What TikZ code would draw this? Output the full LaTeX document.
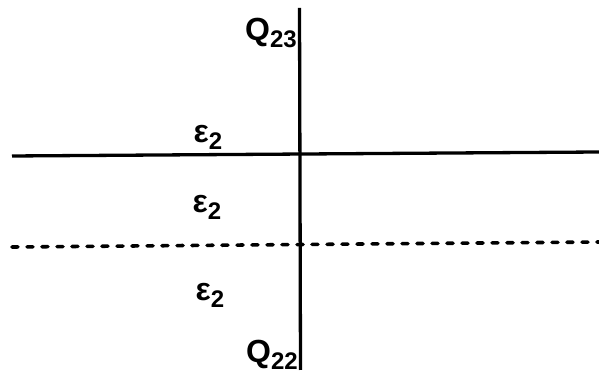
\documentclass[tikz,border=0pt]{standalone}
\usepackage{fontspec}
\setmainfont{Liberation Sans}
\newcommand{\subsc}[1]{\raisebox{-7pt}{\fontsize{24}{28}\selectfont #1}}
\begin{document}
\begin{tikzpicture}[x=1pt,y=1pt,
  lbl/.style={font=\bfseries\fontsize{32}{36}\selectfont, inner sep=0pt},
  thick line/.style={line width=3.3pt},
  dash line/.style={line width=3.6pt, line cap=round, dash pattern=on 6pt off 9pt}]
\useasboundingbox (0,0) rectangle (599,379);
\coordinate (vtop) at (299.5,371);
\coordinate (vbot) at (300.5,9);
\coordinate (sl) at (12,223);
\coordinate (sr) at (599,227);
\coordinate (dl) at (12,132);
\coordinate (dr) at (599,137);
\draw[thick line] (vtop) -- (vbot);
\draw[thick line] (sl) -- (sr);
\draw[dash line] (dl) -- (dr);
\node[lbl] (q23) at (271,346) {Q\subsc{23}};
\node[lbl] (e1) at (208,242) {ε\subsc{2}};
\node[lbl] (e2) at (207,172) {ε\subsc{2}};
\node[lbl] (e3) at (210,84) {ε\subsc{2}};
\node[lbl] (q22) at (272,24) {Q\subsc{22}};
\end{tikzpicture}
\end{document}
